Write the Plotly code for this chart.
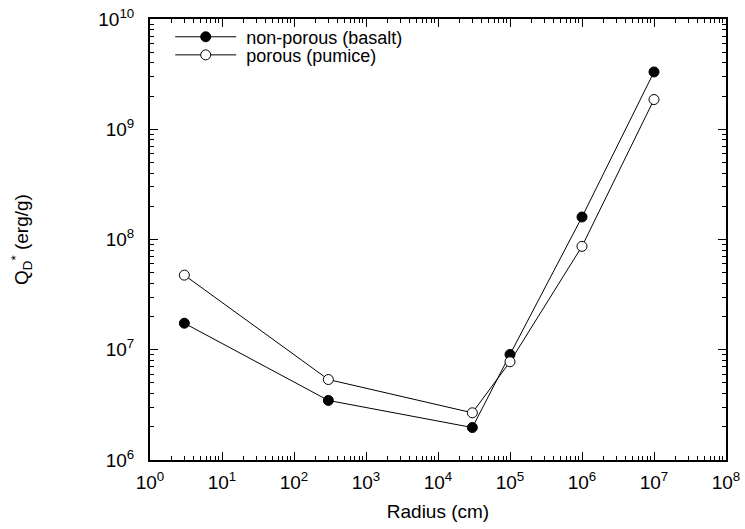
import plotly.graph_objects as go

radius = [3, 300, 3e4, 1e5, 1e6, 1e7]
basalt = [1.74e7, 3.47e6, 1.97e6, 9.06e6, 1.60e8, 3.31e9]
pumice = [4.75e7, 5.37e6, 2.68e6, 7.78e6, 8.67e7, 1.86e9]

SUP = "<sup style='font-size:15px'>%d</sup>"
x_tick_vals = [1e0, 1e1, 1e2, 1e3, 1e4, 1e5, 1e6, 1e7, 1e8]
x_tick_text = ["10" + SUP % i for i in range(0, 9)]
y_tick_vals = [1e6, 1e7, 1e8, 1e9, 1e10]
y_tick_text = ["10" + SUP % i for i in range(6, 11)]

x_minor = [m * 10 ** e for e in range(0, 8) for m in range(2, 10)]
y_minor = [m * 10 ** e for e in range(6, 10) for m in range(2, 10)]

FONT = "Liberation Sans, Arial, sans-serif"

fig = go.Figure()
fig.add_trace(go.Scatter(
    x=radius, y=basalt, mode="lines+markers",
    name="&nbsp;non-porous (basalt)", legend="legend",
    line=dict(color="black", width=1),
    marker=dict(symbol="circle", size=10, color="black", line=dict(color="black", width=1)),
))
fig.add_trace(go.Scatter(
    x=radius, y=pumice, mode="lines+markers",
    name="&nbsp;porous (pumice)", legend="legend2",
    line=dict(color="black", width=1),
    marker=dict(symbol="circle", size=10, color="white", line=dict(color="black", width=1)),
))

axis_common = dict(
    type="log", showgrid=False, zeroline=False,
    showline=True, linecolor="black", linewidth=2, mirror="ticks",
    ticks="inside", ticklen=8, tickwidth=1, tickcolor="black",
    tickfont=dict(family=FONT, size=19, color="black"),
    tickmode="array", ticklabeloverflow="allow",
)

fig.update_xaxes(
    **axis_common,
    range=[0, 8],
    tickvals=x_tick_vals, ticktext=x_tick_text,
    ticklabelstandoff=4,
    minor=dict(tickmode="array", tickvals=x_minor, ticks="inside", ticklen=4,
               tickwidth=1, tickcolor="black", showgrid=False),
    title=dict(text="Radius (cm)", font=dict(family=FONT, size=19, color="black"), standoff=13),
)
fig.update_yaxes(
    **axis_common,
    range=[6, 10],
    tickvals=y_tick_vals, ticktext=y_tick_text,
    ticklabelstandoff=10,
    minor=dict(tickmode="array", tickvals=y_minor, ticks="inside", ticklen=4,
               tickwidth=1, tickcolor="black", showgrid=False),
    title=dict(text="Q<sub style='font-size:17px'>D</sub><sup style='font-size:17px'>*</sup> (erg/g)",
               font=dict(family=FONT, size=19, color="black"), standoff=65),
)

legend_common = dict(
    x=0.0351, xanchor="left", yanchor="middle",
    bgcolor="rgba(0,0,0,0)", borderwidth=0,
    font=dict(family=FONT, size=18, color="black"),
    itemwidth=61,
)

fig.update_layout(
    width=745, height=529,
    margin=dict(l=150, r=19, t=19, b=69, autoexpand=False),
    paper_bgcolor="white", plot_bgcolor="white",
    font=dict(family=FONT, size=19, color="black"),
    showlegend=True,
    legend=dict(**legend_common, y=0.959),
    legend2=dict(**legend_common, y=0.918),
)

# remove the browser's default 8px body margin so the figure fills the window
fig.write_html("out.html", config={"displayModeBar": False},
               post_script="document.body.style.margin='0';")
